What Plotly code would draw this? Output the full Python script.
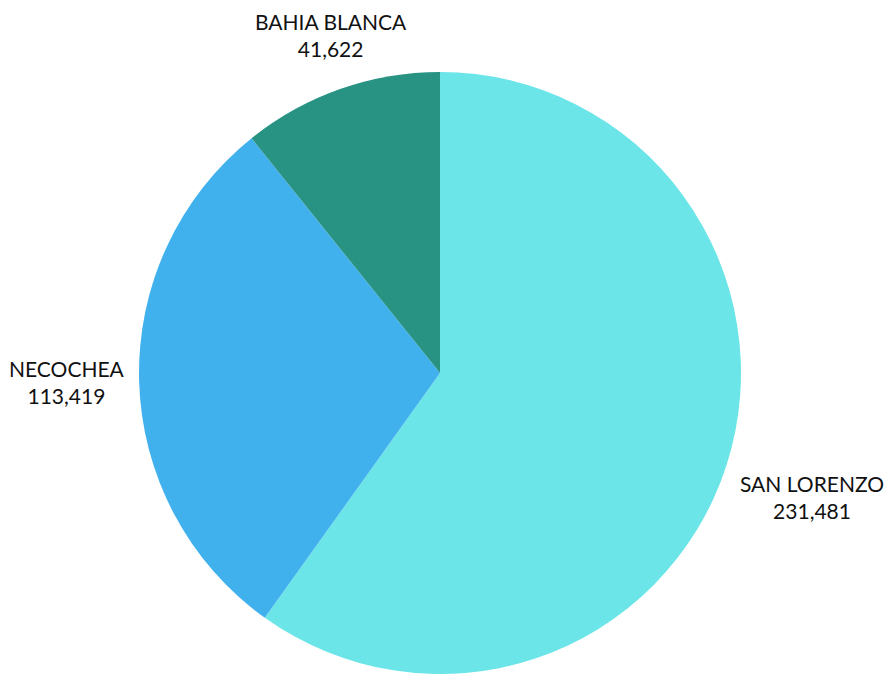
import math
import plotly.graph_objects as go

labels = ["SAN LORENZO", "NECOCHEA", "BAHIA BLANCA"]
values = [231481, 113419, 41622]
colors = ["#6BE5E8", "#41B1EE", "#289383"]

W, H = 893, 675
CX, CY, R = 432, 365, 301      # pie centre / radius in figure pixels
LABEL_GAP = 12                 # distance of side labels beyond the rim
LABEL_GAP_V = 28               # distance of top/bottom labels beyond the rim

fig = go.Figure(go.Pie(
    labels=labels,
    values=values,
    sort=False,
    direction="clockwise",
    rotation=0,
    marker=dict(colors=colors, line=dict(width=0)),
    textposition="none",
    showlegend=False,
    domain=dict(x=[(CX - R) / W, (CX + R) / W],
                y=[(H - CY - R) / H, (H - CY + R) / H]),
    hoverinfo="label+value",
))

# outside labels placed at each slice's mid-angle (clockwise from 12 o'clock)
total = sum(values)
cum = 0
for lab, v in zip(labels, values):
    mid = (cum + v / 2) / total * 2 * math.pi
    cum += v
    s, c = math.sin(mid), math.cos(mid)
    xanchor = "left" if s > 0.5 else ("right" if s < -0.5 else "center")
    yanchor = "bottom" if c > 0.25 else ("top" if c < -0.25 else "middle")
    gap = LABEL_GAP_V if xanchor == "center" else LABEL_GAP
    px = CX + (R + gap) * s
    py = CY - (R + gap) * c
    fig.add_annotation(
        x=px / W, y=1 - py / H, xref="paper", yref="paper",
        text=f"{lab}<br>{v:,}", showarrow=False, align="center",
        xanchor=xanchor, yanchor=yanchor,
        font=dict(family="Lato, Calibri, sans-serif", size=21, color="#111111"),
    )

fig.update_layout(
    width=W, height=H,
    margin=dict(l=0, r=0, t=0, b=0),
    paper_bgcolor="white",
    plot_bgcolor="white",
)

fig.write_html("out.html")
